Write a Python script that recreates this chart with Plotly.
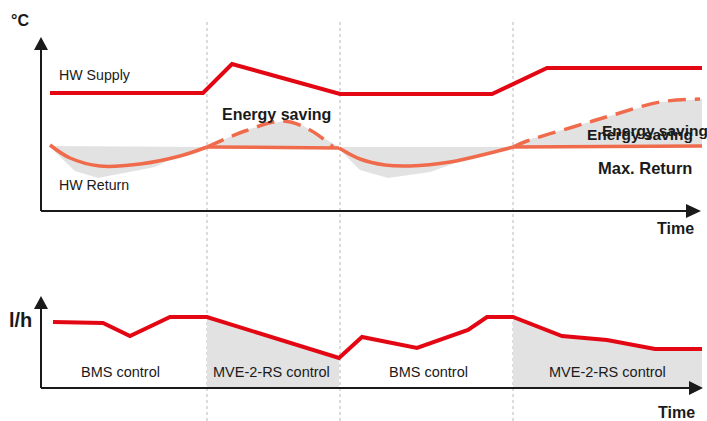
import plotly.graph_objects as go

# ---- data (x = time position, y = chart row position; schematic) ----
supply_t = [50, 203, 232, 340, 492, 547, 702]
supply_v = [93, 93, 64, 94, 94, 68, 68]

ret1_t = [50, 70, 100, 140, 180, 207]
ret1_v = [145, 158, 166, 164, 156, 147]
ret_flat1_t = [207, 339]
ret_flat1_v = [147, 148]
ret2_t = [339, 360, 385, 410, 450, 490, 513]
ret2_v = [148, 159, 165, 166, 162, 153, 147]
ret_flat2_t = [513, 702]
ret_flat2_v = [147, 146]

dash1_t = [207, 245, 283, 310, 333]
dash1_v = [147, 131, 121, 130, 147]
dash2_t = [513, 527, 573, 613, 660, 700]
dash2_v = [147, 141, 127, 115, 102, 99]

gray1_t = [50, 207, 180, 155, 98, 75, 55]
gray1_v = [146, 147, 155, 167, 178, 171, 152]
gray2_t = [207, 245, 262, 283, 300, 318, 339]
gray2_v = [147, 130, 126, 121, 124, 135, 147]
gray3_t = [339, 513, 490, 470, 430, 388, 360, 345]
gray3_v = [147, 147, 153, 158, 172, 178, 170, 155]
gray4_t = [513, 527, 573, 613, 660, 702, 702]
gray4_v = [147, 140, 127, 115, 102, 99, 146]

flow_t = [53, 103, 130, 170, 207, 339, 362, 417, 468, 487, 513, 562, 607, 655, 702]
flow_v = [322, 323, 336, 317, 317, 358, 337, 348, 330, 317, 317, 336, 340, 349, 349]

fill_b1_t = [207, 339, 339, 207]
fill_b1_v = [317, 358, 388, 388]
fill_b2_t = [513, 562, 607, 655, 702, 702, 513]
fill_b2_v = [317, 336, 340, 349, 349, 388, 388]

phase_t = [207, 340, 513]

RED = "#e30613"
ORANGE = "#ef6b4c"
GRAY = "#e2e2e2"
INK = "#1a1a1a"
FONT = "Liberation Sans, Arial, sans-serif"

fig = go.Figure()

def poly(t, v):
    fig.add_trace(go.Scatter(x=t, y=v, fill="toself", fillcolor=GRAY, mode="lines",
                             line=dict(width=0, color=GRAY), hoverinfo="skip", showlegend=False))

for t, v in [(gray1_t, gray1_v), (gray2_t, gray2_v), (gray3_t, gray3_v), (gray4_t, gray4_v),
             (fill_b1_t, fill_b1_v), (fill_b2_t, fill_b2_v)]:
    poly(t, v)

def line(t, v, color, width, dash="solid", shape="linear"):
    fig.add_trace(go.Scatter(x=t, y=v, mode="lines", showlegend=False,
                             line=dict(color=color, width=width, dash=dash, shape=shape,
                                       smoothing=1.0 if shape == "spline" else None)))

line(supply_t, supply_v, RED, 4)
line(ret1_t, ret1_v, ORANGE, 3.5, shape="spline")
line(ret_flat1_t, ret_flat1_v, ORANGE, 3.5)
line(ret2_t, ret2_v, ORANGE, 3.5, shape="spline")
line(ret_flat2_t, ret_flat2_v, ORANGE, 3.5)
line(dash1_t, dash1_v, ORANGE, 3.5, dash="18px,9px", shape="spline")
line(dash2_t, dash2_v, ORANGE, 3.5, dash="18px,9px", shape="spline")
line(flow_t, flow_v, RED, 4)

shapes = []
for t in phase_t:
    shapes.append(dict(type="line", x0=t, x1=t, y0=22, y1=421,
                       line=dict(color="#b8b8b8", width=1, dash="dot"), layer="below"))
# axes
shapes += [
    dict(type="line", x0=41, x1=41, y0=48, y1=211, line=dict(color=INK, width=2)),
    dict(type="line", x0=41, x1=688, y0=211, y1=211, line=dict(color=INK, width=2)),
    dict(type="path", path="M 34 50 L 41 37 L 48 50 Z", fillcolor=INK, line=dict(width=0)),
    dict(type="path", path="M 686 204 L 701 211 L 686 218 Z", fillcolor=INK, line=dict(width=0)),
    dict(type="line", x0=41, x1=41, y0=307, y1=388, line=dict(color=INK, width=2)),
    dict(type="line", x0=41, x1=690, y0=388, y1=388, line=dict(color=INK, width=2)),
    dict(type="path", path="M 34 309 L 41 296 L 48 309 Z", fillcolor=INK, line=dict(width=0)),
    dict(type="path", path="M 689 381 L 703 388 L 689 395 Z", fillcolor=INK, line=dict(width=0)),
]

def txt(x, y, s, size=12, bold=False, xanchor="center"):
    return dict(x=x, y=y, text=f"<b>{s}</b>" if bold else s, showarrow=False,
                xanchor=xanchor, yanchor="middle",
                font=dict(family=FONT, size=size, color=INK))

annotations = [
    txt(20, 20, "°C", 16, True),
    txt(675, 228, "Time", 16, True),
    txt(20, 320, "l/h", 20, True),
    txt(676, 412, "Time", 16, True),
    txt(57, 75, "HW Supply", 14.2, False, "left"),
    txt(57, 185, "HW Return", 14.2, False, "left"),
    txt(276, 114, "Energy saving", 16, True),
    txt(640, 134, "Energy saving", 15.5, True),
    txt(655, 130, "Energy saving", 15.5, True),
    txt(645, 168, "Max. Return", 16.5, True),
    txt(120, 372, "BMS control", 14.5),
    txt(271, 372, "MVE-2-RS control", 14.5),
    txt(428, 372, "BMS control", 14.5),
    txt(607, 372, "MVE-2-RS control", 14.5),
]

fig.update_layout(
    width=707, height=421, margin=dict(l=0, r=0, t=0, b=0),
    paper_bgcolor="white", plot_bgcolor="white",
    xaxis=dict(range=[0, 707], visible=False, fixedrange=True),
    yaxis=dict(range=[421, 0], visible=False, fixedrange=True),
    shapes=shapes, annotations=annotations, showlegend=False,
)

fig.write_html("out.html", config={"displayModeBar": False},
               post_script="document.body.style.margin='0';document.body.style.overflow='hidden';")
